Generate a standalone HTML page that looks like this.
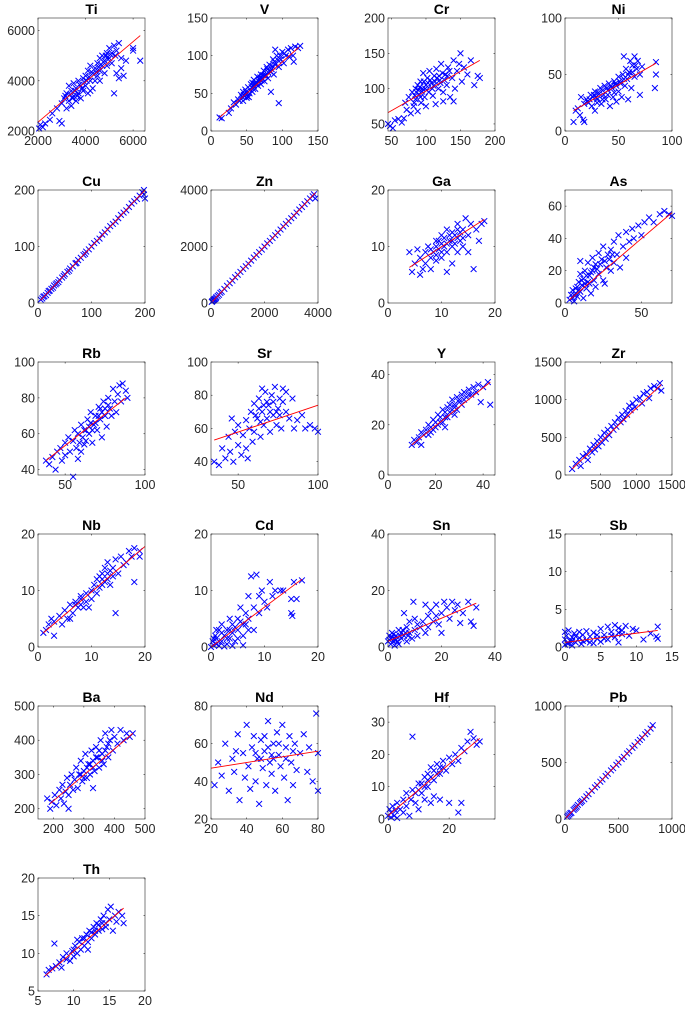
<!DOCTYPE html>
<html><head><meta charset="utf-8">
<style>
html,body{margin:0;padding:0;background:#fff;}
svg{display:block;font-family:"Liberation Sans",Arial,sans-serif;}
</style></head>
<body>
<svg id="fig" width="685" height="1010" viewBox="0 0 685 1010" xmlns="http://www.w3.org/2000/svg"></svg>
<script>
// ---- data ----
const titles = ["Ti","V","Cr","Ni","Cu","Zn","Ga","As","Rb","Sr","Y","Zr","Nb","Cd","Sn","Sb","Ba","Nd","Hf","Pb","Th"];
const xlims = [[2000,6500],[0,150],[45,200],[0,100],[0,200],[0,4000],[0,20],[0,70],[33,100],[33,100],[0,45],[0,1500],[0,20],[0,20],[0,40],[0,15],[150,500],[20,80],[0,35],[0,1000],[5,20]];
const ylims = [[2000,6500],[0,150],[40,200],[0,100],[0,200],[0,4000],[0,20],[0,70],[37,100],[32,100],[0,45],[0,1500],[0,20],[0,20],[0,40],[0,15],[170,500],[20,80],[0,35],[0,1000],[5,20]];
const xticks = [[2000,4000,6000],[0,50,100,150],[50,100,150,200],[0,50,100],[0,100,200],[0,2000,4000],[0,10,20],[0,50],[50,100],[50,100],[0,20,40],[500,1000,1500],[0,10,20],[0,10,20],[0,20,40],[0,5,10,15],[200,300,400,500],[20,40,60,80],[0,20],[0,500,1000],[5,10,15,20]];
const yticks = [[2000,4000,6000],[0,50,100,150],[50,100,150,200],[0,50,100],[0,100,200],[0,2000,4000],[0,10,20],[0,20,40,60],[40,60,80,100],[40,60,80,100],[0,20,40],[0,500,1000,1500],[0,10,20],[0,10,20],[0,20,40],[0,5,10,15],[200,300,400,500],[20,40,60,80],[0,10,20,30],[0,500,1000],[5,10,15,20]];
const fits = [[2000,2350,6300,5800],[12,18,123,111],[45,66,178,140],[8,18,85,60],[5,5,200,200],[50,50,3900,3900],[4,6.3,18,14.8],[3,2,70,56],[38,45,88,80],[35,53,100,74],[10,12,43,37],[100,80,1350,1200],[1,2.5,20,17.8],[0,0,17,12],[0,2,33,15.5],[0,0.6,13,2.2],[190,215,460,420],[20,47,80,56],[0,1,30,25],[10,10,820,820],[6,7,17,16]];
const pts = [
[[2050,2100],[2100,2250],[2200,2150],[2300,2300],[2500,2450],[2600,2700],[2800,2900],[2900,2400],[3000,2300],[3000,3100],[3100,3300],[3200,2900],[3200,3500],[3300,3200],[3400,3600],[3400,3000],[3500,3400],[3500,3900],[3600,3700],[3600,3200],[3700,4000],[3700,3500],[3800,3800],[3800,3300],[3900,4100],[3900,3600],[4000,4200],[4000,3800],[4100,3500],[4100,4400],[4200,4000],[4200,4600],[4300,4300],[4300,3700],[4400,4500],[4400,4000],[4500,4700],[4500,4200],[4600,4900],[4600,4400],[4700,4600],[4700,5000],[4800,4300],[4800,4800],[4900,5100],[4900,4600],[5000,4900],[5000,5300],[5100,5100],[5100,4700],[5200,5400],[5200,3500],[5300,4300],[5300,5200],[5400,4100],[5400,5500],[5500,4500],[5500,4900],[5600,4200],[5700,4800],[6000,5200],[6000,5300],[6300,4800],[4200,3600],[3300,3800],[4600,4000],[3150,3400],[3350,3450],[3550,3600],[3750,3850],[3950,3950],[4150,4150],[4350,4250],[4550,4550],[4750,4750],[4950,4850],[4050,4000],[4450,4350],[4850,5000],[3650,3400],[3850,3700],[4250,4350],[4650,4650],[5050,5050],[5250,5000],[3450,3300]],
[[12,18],[15,17],[25,24],[28,30],[32,38],[35,35],[38,42],[40,40],[42,48],[44,45],[45,52],[47,46],[48,55],[50,50],[52,58],[53,45],[55,55],[56,62],[58,52],[60,60],[60,68],[62,56],[63,65],[65,72],[66,60],[68,68],[70,75],[70,62],[72,70],[74,80],[75,66],[77,74],[78,85],[80,78],[80,70],[82,88],[84,52],[85,82],[87,95],[88,75],[90,88],[92,100],[95,37],[95,85],[98,95],[100,105],[102,90],[105,100],[108,108],[110,98],[112,110],[115,100],[116,92],[118,112],[122,110],[125,113],[90,108],[50,44],[45,40],[58,64],[46,48],[49,52],[51,46],[54,50],[57,58],[59,56],[61,63],[64,62],[67,66],[69,71],[71,67],[73,74],[76,73],[79,82],[83,79],[86,86],[89,92],[94,94],[97,100],[103,103]],
[[45,50],[48,47],[52,44],[55,55],[60,57],[65,52],[68,58],[70,80],[72,70],[75,88],[78,65],[80,95],[82,75],[85,100],[85,85],[88,105],[88,68],[90,92],[92,110],[93,80],[95,100],[96,122],[98,88],[100,105],[100,75],[102,115],[104,95],[105,125],[108,108],[110,90],[112,118],[114,78],[115,128],[118,100],[120,112],[122,135],[125,95],[128,120],[130,105],[132,130],[135,88],[138,115],[140,140],[142,100],[145,125],[148,135],[150,150],[152,110],[155,130],[160,120],[165,140],[170,105],[175,118],[178,115],[140,82],[125,82],[86,95],[89,98],[91,102],[94,96],[97,110],[99,100],[101,98],[103,108],[106,112],[109,100],[111,104],[113,110],[116,115],[119,118],[121,108],[124,122],[127,112],[131,118],[134,125],[84,90],[83,80],[92,88]],
[[8,8],[10,18],[12,20],[14,14],[15,30],[17,10],[18,8],[18,24],[20,28],[22,25],[24,32],[25,22],[26,30],[28,35],[28,18],[30,28],[32,33],[33,38],[34,24],[36,32],[37,40],[38,28],[40,36],[41,42],[42,22],[44,38],[45,30],[46,44],[48,40],[48,26],[50,35],[50,48],[52,42],[53,30],[54,50],[55,66],[56,40],[57,55],[58,46],[59,28],[60,52],[61,62],[62,38],[63,58],[65,66],[65,48],[67,55],[68,62],[70,50],[70,32],[72,57],[85,61],[85,50],[84,38],[66,58],[46,34],[21,26],[23,28],[27,32],[29,30],[31,34],[35,36],[39,38],[43,40],[47,42],[51,44],[55,46],[59,50],[63,52],[35,28],[30,25],[40,32]],
[[5,6],[8,8],[10,11],[12,12],[15,14],[18,18],[20,21],[22,22],[25,25],[28,27],[30,31],[33,33],[35,35],[38,37],[40,41],[45,45],[48,48],[50,51],[55,55],[58,57],[60,61],[65,65],[70,70],[72,71],[75,76],[80,80],[85,85],[88,87],[90,91],[95,95],[100,100],[105,106],[110,110],[115,114],[120,121],[125,125],[130,130],[135,136],[140,140],[145,144],[150,150],[155,156],[160,160],[165,164],[170,170],[175,176],[180,180],[185,184],[190,190],[195,196],[198,200],[200,185],[198,192]],
[[50,60],[100,100],[150,140],[200,210],[250,250],[300,290],[350,360],[400,400],[500,500],[600,610],[700,700],[800,790],[900,910],[1000,1000],[1100,1100],[1200,1210],[1300,1300],[1400,1390],[1500,1500],[1600,1610],[1700,1700],[1800,1800],[1900,1890],[2000,2000],[2100,2110],[2200,2200],[2300,2300],[2400,2400],[2500,2490],[2600,2600],[2700,2710],[2800,2800],[2900,2900],[3000,3000],[3100,3090],[3200,3200],[3300,3310],[3400,3400],[3500,3500],[3600,3600],[3700,3700],[3800,3780],[3850,3850],[3900,3700],[80,90],[120,130],[180,170],[30,40]],
[[4,9],[4.5,5.5],[5,7],[5.5,9.5],[6,5],[6,8],[6.5,6],[7,9],[7,7],[7.5,10],[8,8],[8,6],[8.5,9],[9,11],[9,7.5],[9.5,9.5],[10,8],[10,12],[10.5,10],[11,9],[11,13],[11.5,11],[12,10],[12,7],[12.5,12],[13,14],[13,9],[13.5,11],[14,13],[14,10],[14.5,15],[15,12],[15,9],[15.5,14],[16,6],[16.5,13],[17,11],[17.5,14],[18,14.5],[11,5.5],[9,10],[12,12.5],[10,10.5],[13,13],[9.5,11],[10.5,11.5],[11.5,12],[12.5,10.5],[13.5,12.5],[14,11.5],[10,9],[11,10.5],[12,11],[8,9.5],[9,8.5],[13,11.5]],
[[3,2],[4,5],[5,3],[5,8],[6,1],[7,6],[8,10],[8,4],[9,13],[10,7],[10,18],[11,11],[12,3],[12,15],[13,20],[14,9],[15,13],[15,25],[16,17],[17,6],[18,20],[18,28],[19,14],[20,24],[20,10],[22,31],[22,18],[24,27],[25,14],[25,35],[27,22],[28,30],[30,33],[30,20],[32,38],[32,25],[34,30],[35,42],[36,22],[38,35],[40,44],[40,28],[42,38],[44,46],[45,40],[48,48],[50,42],[52,50],[55,53],[58,50],[62,55],[65,57],[68,55],[70,54],[26,12],[10,26],[6,5],[7,9],[9,8],[11,14],[13,12],[14,17],[16,12],[17,19],[19,22],[21,21],[23,24],[26,26],[29,27],[31,30]],
[[38,45],[40,43],[42,47],[44,40],[45,50],[47,52],[48,45],[50,55],[50,48],[52,58],[53,50],[55,56],[55,36],[56,62],[57,52],[58,60],[59,55],[60,65],[60,50],[62,62],[63,56],[64,68],[65,60],[66,72],[67,55],[68,65],[69,70],[70,62],[71,75],[72,68],[73,58],[74,78],[75,70],[76,64],[77,80],[78,74],[79,70],[80,85],[81,78],[82,72],[83,82],[84,87],[85,78],[86,88],[88,84],[89,80],[58,46],[66,66],[72,74],[61,58],[63,62],[65,64],[67,62],[69,66],[71,70],[73,72],[75,74],[77,76],[62,54]],
[[35,40],[38,38],[40,48],[42,42],[44,55],[45,46],[47,40],[48,58],[50,50],[50,62],[52,44],[53,56],[55,65],[55,48],[57,60],[58,70],[59,52],[60,75],[60,58],[62,66],[63,78],[64,55],[65,70],[66,62],[67,82],[68,66],[69,74],[70,58],[71,80],[72,68],[73,85],[74,62],[75,72],[76,78],[77,60],[78,84],[80,70],[82,66],[84,78],[85,60],[87,65],[90,68],[92,60],[95,62],[98,60],[100,58],[46,66],[56,42],[65,84],[80,82],[61,68],[63,72],[66,74],[68,76],[70,70],[72,76],[74,70],[76,68],[78,76],[64,64]],
[[10,12],[11,14],[12,13],[13,15],[14,12],[14,17],[15,16],[16,18],[17,16],[17,20],[18,19],[19,22],[19,18],[20,21],[21,24],[21,20],[22,23],[23,26],[23,21],[24,25],[25,27],[25,23],[26,28],[27,26],[27,30],[28,28],[29,31],[29,26],[30,30],[31,32],[31,28],[32,33],[33,31],[34,34],[35,32],[36,35],[37,33],[38,36],[40,35],[42,37],[43,28],[39,29],[24,19],[28,24],[22,21],[24,23],[26,25],[28,27],[30,29],[32,30],[20,19],[18,17],[34,32]],
[[100,80],[150,150],[200,200],[220,120],[250,250],[300,280],[320,200],[350,350],[380,300],[400,400],[420,340],[450,450],[470,380],[500,500],[520,430],[550,560],[570,480],[600,600],[620,530],[650,650],[680,600],[700,700],[720,640],[750,760],[780,700],[800,800],[820,740],[850,850],[870,800],[900,920],[920,860],[950,950],[980,900],[1000,1000],[1050,1020],[1080,950],[1100,1080],[1150,1100],[1180,1020],[1200,1150],[1250,1180],[1300,1150],[1330,1220],[1350,1120]],
[[1,2.5],[1.5,3],[2,4],[2.5,5],[3,2],[3,4.5],[4,5.5],[4.5,4],[5,6.5],[5.5,5],[6,7.5],[6.5,6],[7,8],[7.5,7],[8,9],[8.5,7],[9,9.5],[9.5,7],[10,10],[10,8.5],[10.5,11],[11,9.5],[11,12],[11.5,10.5],[12,13],[12,11],[12.5,14],[13,12],[13,15],[13.5,11],[14,14],[14.5,6],[14.5,15.5],[15,13],[15.5,16],[16,14.5],[16.5,15],[17,17],[17.5,16],[18,11.5],[18,17.5],[19,17],[19,16],[8,7.5],[6,5],[12,12],[12.5,11.5],[13,13],[13.5,13.5],[14,12.5],[11.5,12.5],[7,7.5],[8,8.5],[9,8]],
[[0,0],[0.3,1],[0.5,0.3],[0.8,2],[1,0.5],[1,1.5],[1.5,3],[1.5,0.2],[2,1],[2,4],[2.5,2],[3,0.5],[3,3],[3.5,5],[3.5,1.5],[4,2.5],[4,4],[4.5,1],[5,5],[5,3],[5.5,7],[6,4],[6,2],[6.5,6],[7,9],[7,5],[7.5,12.5],[8,7],[8,3],[8.5,12.8],[9,9],[9,6],[9.5,10],[10,8],[10.5,7],[11,11.5],[11.5,9],[12,10],[13,10],[13.5,10],[15,8.5],[15,6],[15.2,5.5],[15.5,11.5],[16,8.5],[17,11.8],[2.5,0.1],[1,3],[4,0.2],[6,0.3],[0.5,1.5],[1.5,1],[2,2.5],[3,1.5],[3.5,3],[4.5,3.5],[5,1.5],[5.5,4.5],[6.5,4],[7,3]],
[[0,2],[0.5,4],[1,1],[1,3],[1.5,5],[2,2],[2.5,0.5],[3,4],[3,2.5],[4,6],[4,1],[5,3],[5,5],[6,4],[6,12],[7,2],[7,7],[8,5],[8,9],[9,3],[9.5,16],[10,6],[10,10],[11,4],[11,8],[12,7],[13,9],[14,15],[14,5],[15,11],[15,7],[16,13],[17,9],[18,15],[18,11],[19,8],[20,12],[21,16],[22,14],[23,10],[24,16],[25,13],[26,15],[27,8.5],[28,12],[30,16],[31,9],[32,7.5],[33,14],[20,5],[0.5,2.5],[1.5,3.5],[2,4.5],[2.5,3],[3.5,2],[4.5,4],[5.5,6],[6.5,5],[7.5,4]],
[[0,0.3],[0,1],[0,2],[0.2,1.5],[0.3,0.5],[0.5,2.2],[0.7,0.8],[1,1.3],[1,0.2],[1.3,1.8],[1.5,0.6],[2,1.2],[2,2],[2.3,0.4],[2.5,1.6],[3,0.9],[3,2.1],[3.5,1.4],[4,0.5],[4,1.9],[4.5,1.1],[5,2.4],[5,0.7],[5.5,1.6],[6,2.7],[6,1],[6.5,2],[7,2.9],[7,1.3],[7.5,2.5],[7.5,0.6],[8,2.2],[8,1.7],[8.5,2.8],[9,1.5],[9.5,2.4],[10,2.2],[11,1],[12,1.8],[13,1.1],[13,2.7],[12.8,1.4],[0.5,0.5],[1,0.8],[1.5,1.4],[2.5,0.8],[3.5,0.6],[4.5,1.6],[5.5,1.1],[6.5,1.5],[7.5,1.9]],
[[180,230],[190,200],[195,220],[205,240],[210,210],[220,255],[225,230],[230,270],[235,215],[240,250],[245,290],[250,240],[255,270],[260,300],[265,255],[270,285],[275,320],[280,260],[285,300],[290,340],[295,280],[300,310],[305,360],[310,290],[315,330],[320,300],[325,370],[330,340],[335,310],[340,380],[345,350],[350,320],[355,400],[360,360],[365,330],[370,420],[375,380],[380,350],[385,400],[390,430],[395,370],[400,410],[410,390],[420,430],[430,400],[440,420],[450,410],[460,420],[250,200],[330,260],[300,290],[310,320],[320,330],[330,320],[340,350],[350,370],[360,340],[370,370],[380,390],[290,300]],
[[22,38],[24,50],[26,43],[28,60],[30,35],[32,52],[33,45],[35,65],[36,30],[38,55],[39,42],[40,70],[41,48],[42,36],[43,58],[44,64],[45,40],[46,52],[47,28],[48,62],[49,47],[50,56],[51,38],[52,72],[53,50],[54,44],[55,60],[56,35],[57,66],[58,54],[59,48],[60,70],[61,42],[62,58],[63,30],[64,64],[65,50],[66,38],[67,60],[68,46],[70,55],[72,65],[74,45],[75,58],[77,40],[79,76],[80,35],[80,55],[34,56],[50,64],[45,55],[48,52],[52,58],[55,52],[58,60],[62,52],[66,56],[54,54]],
[[0,1],[0.5,3],[1,0.5],[1,2],[1.5,4],[2,1],[2.5,2.5],[3,5],[3,0.3],[4,3],[5,6],[5,2],[6,4],[6,8],[7,1],[7.5,6],[8,25.5],[8,9],[9,5],[10,11],[10,3],[11,8],[12,13],[12,6],[13,14],[13,10],[14,5],[14,16],[15,12],[15,7],[16,17],[17,14],[17,6],[18,18],[19,15],[20,19],[20,5],[21,17],[22,20],[23,18],[24,22],[24,5],[25,21],[26,24],[27,27],[28,25],[29,23],[30,24],[23,2],[11,11],[12,10],[13,12],[14,13],[15,15],[16,14],[17,16],[18,16],[10,9],[9,8]],
[[20,20],[40,40],[60,55],[80,80],[100,100],[120,125],[140,140],[160,160],[180,175],[200,200],[220,220],[250,250],[280,280],[300,300],[330,330],[350,350],[380,380],[400,400],[430,430],[450,450],[480,480],[500,500],[530,530],[550,550],[580,580],[600,600],[630,630],[650,650],[680,680],[700,700],[720,720],[750,750],[770,770],[800,800],[820,830],[30,30],[50,50],[90,90],[150,150],[110,110]],
[[6.2,7.2],[6.5,7.8],[7,8],[7.3,11.3],[7.5,8.3],[8,8.8],[8.3,8.1],[8.5,9.5],[9,9.2],[9,10],[9.5,9],[9.8,10.3],[10,9.6],[10.2,11],[10.5,10],[10.8,11.5],[11,10.5],[11.2,12],[11.5,11],[11.8,12.5],[12,11.5],[12.2,13],[12.5,12],[12.8,13.5],[13,12.5],[13.2,14],[13.5,13],[13.8,14.5],[14,13.2],[14.2,15],[14.5,14],[14.8,15.8],[15,14.5],[15.2,16.2],[15.5,13],[15.8,15],[16,14.2],[16.3,15.5],[16.8,15],[17,14],[12,10.5],[10.5,11.8],[11.5,12],[12.5,12.8],[13.5,13.8],[14.5,13.5],[10,10.5],[13,13],[14,14]]
];

// ---- layout ----
const NS = "http://www.w3.org/2000/svg";
const svg = document.getElementById('fig');
const colLeft = [38,211,388,565], rowTop = [18,190,362,534,706,878];
const AW = 107, AH = 113;
function mk(tag, attrs, parent){const e=document.createElementNS(NS,tag);for(const k in attrs)e.setAttribute(k,attrs[k]);(parent||svg).appendChild(e);return e;}

titles.forEach((t,i)=>{
  const L = colLeft[i%4], T = rowTop[Math.floor(i/4)];
  const g = mk('g',{});
  
  
  const [x0,x1]=xlims[i],[y0,y1]=ylims[i];
  const sx=v=>L+(v-x0)/(x1-x0)*AW;
  const sy=v=>T+AH-(v-y0)/(y1-y0)*AH;
  mk('rect',{x:L,y:T,width:AW,height:AH,fill:'#fff'},g);
  xticks[i].forEach(v=>{const x=sx(v);
    mk('line',{x1:x,y1:T+AH,x2:x,y2:T+AH-1.5,stroke:'#262626','stroke-width':0.6},g);
    mk('line',{x1:x,y1:T,x2:x,y2:T+1.5,stroke:'#262626','stroke-width':0.6},g);
    const tx=mk('text',{x:x,y:T+AH+14,'text-anchor':'middle','font-size':12.5,fill:'#262626'},g);tx.textContent=v;
    
    
  });
  yticks[i].forEach(v=>{const y=sy(v);
    mk('line',{x1:L,y1:y,x2:L+1.5,y2:y,stroke:'#262626','stroke-width':0.6},g);
    mk('line',{x1:L+AW,y1:y,x2:L+AW-1.5,y2:y,stroke:'#262626','stroke-width':0.6},g);
    const ty=mk('text',{x:L-3,y:y+4.5,'text-anchor':'end','font-size':12.5,fill:'#262626'},g);ty.textContent=v;
    
    
  });
  const pg = mk('g',{stroke:'#0000ff','stroke-width':1},g);
  
  
  pts[i].forEach(p=>{const x=sx(p[0]),y=sy(p[1]),r=2.9;
    const path=mk('path',{d:`M${x-r} ${y-r}L${x+r} ${y+r}M${x-r} ${y+r}L${x+r} ${y-r}`,fill:'none'},pg);
    
    
  });
  const f=fits[i];
  const ln=mk('line',{x1:sx(f[0]),y1:sy(f[1]),x2:sx(f[2]),y2:sy(f[3]),stroke:'#ff0000','stroke-width':0.9},g);
  
  
  const box=mk('rect',{x:L,y:T,width:AW,height:AH,fill:'none',stroke:'#262626','stroke-width':0.6},g);
  
  
  const tt=mk('text',{x:L+AW/2,y:T-4,'text-anchor':'middle','font-size':14,'font-weight':'bold',fill:'#000'},g);
  tt.textContent=t;
  
  
});
</script>
</body></html>
